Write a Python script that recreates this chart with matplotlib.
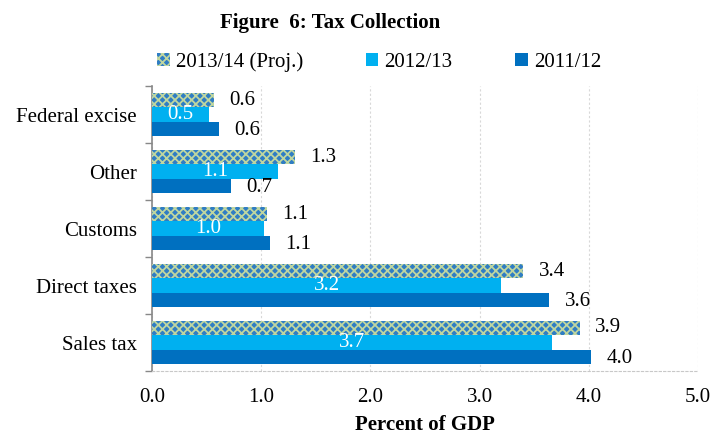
import numpy as np
import matplotlib.pyplot as plt
from matplotlib.patches import Patch

plt.rcParams['font.family'] = ['Liberation Serif', 'DejaVu Serif']
plt.rcParams['hatch.linewidth'] = 1.3

# categories listed bottom to top
categories = ['Sales tax', 'Direct taxes', 'Customs', 'Other', 'Federal excise']
proj_1314 = [3.92, 3.40, 1.05, 1.31, 0.57]
fy_1213 = [3.66, 3.20, 1.03, 1.15, 0.52]
fy_1112 = [4.02, 3.64, 1.08, 0.72, 0.61]
x_ticks = [0.0, 1.0, 2.0, 3.0, 4.0, 5.0]

c_proj = '#2F7DC4'
c_hatch = '#BFD6A0'
c_1213 = '#00B0F0'
c_1112 = '#0070C0'
fs = 15

fig = plt.figure(figsize=(7.1, 4.37), dpi=100)
ax = fig.add_axes([0.214, 0.151, 0.769, 0.652])

y = np.arange(len(categories))
h = 0.255

ax.barh(y + h, proj_1314, height=h, color=c_proj, edgecolor=c_hatch,
        hatch='xxxx', linewidth=0, zorder=3)
ax.barh(y, fy_1213, height=h, color=c_1213, linewidth=0, zorder=3)
ax.barh(y - h, fy_1112, height=h, color=c_1112, linewidth=0, zorder=3)

# value labels: outside for 13/14 and 11/12, inside (white) for 12/13
for yi, v in zip(y, proj_1314):
    ax.text(v + 0.14, yi + h, f'{v:.1f}', va='center', ha='left', fontsize=fs)
for yi, v in zip(y, fy_1213):
    ax.text(v / 2, yi, f'{v:.1f}', va='center', ha='center', fontsize=fs,
            color='white')
for yi, v in zip(y, fy_1112):
    ax.text(v + 0.14, yi - h - 0.02, f'{v:.1f}', va='center', ha='left',
            fontsize=fs)

ax.set_xlim(0, 5)
ax.set_ylim(-0.5, len(categories) - 0.5)
ax.set_xticks(x_ticks)
ax.set_xticklabels([f'{t:.1f}' for t in x_ticks], fontsize=fs)
ax.tick_params(axis='x', length=0, pad=12)

ax.set_yticks(y)
ax.set_yticklabels(categories, fontsize=fs)
ax.set_yticks(np.arange(-0.5, len(categories)), minor=True)
ax.tick_params(axis='y', which='major', length=0, pad=11)
ax.tick_params(axis='y', which='minor', length=5, color='#888888', width=1)

ax.grid(axis='x', color='#D8D8D8', linestyle=(0, (2, 2)), linewidth=0.8,
        zorder=0)
for s in ['top', 'right']:
    ax.spines[s].set_visible(False)
ax.spines['bottom'].set_color('#C8C8C8')
ax.spines['bottom'].set_linestyle((0, (2, 2)))
ax.spines['left'].set_color('#888888')
ax.spines['left'].set_linewidth(1.2)

ax.set_xlabel('Percent of GDP', fontsize=fs, fontweight='bold', labelpad=6)
fig.text(0.465, 0.948, 'Figure  6: Tax Collection', ha='center', va='center',
         fontsize=fs, fontweight='bold')

handles = [Patch(facecolor=c_proj, edgecolor=c_hatch, hatch='xxxx', linewidth=0),
           Patch(facecolor=c_1213), Patch(facecolor=c_1112)]
labels = ['2013/14 (Proj.)', '2012/13', '2011/12']
fig.legend(handles, labels, loc='center', ncol=3, bbox_to_anchor=(0.534, 0.858),
           frameon=False, fontsize=fs, handlelength=0.6, handleheight=0.6,
           handletextpad=0.3, columnspacing=3.0)

fig.savefig('out.png', dpi=100)
